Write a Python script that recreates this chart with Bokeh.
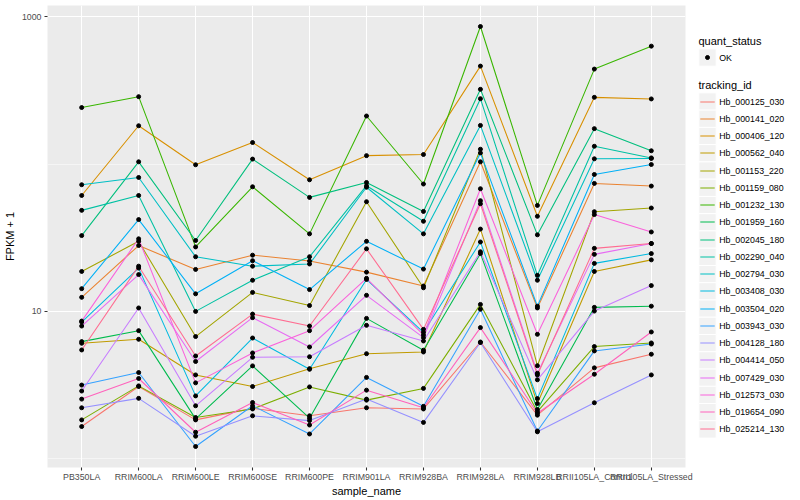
import numpy as np
from bokeh.plotting import figure
from bokeh.models import Range1d, FixedTicker
from bokeh.layouts import row
from bokeh.embed import file_html
from bokeh.resources import INLINE
from bokeh.core.properties import value

# ---------------- data ----------------
samples = ["PB350LA", "RRIM600LA", "RRIM600LE", "RRIM600SE", "RRIM600PE",
           "RRIM901LA", "RRIM928BA", "RRIM928LA", "RRIM928LB",
           "RRII105LA_Control", "RRII105LA_Stressed"]

tracking_ids = ["Hb_000125_030", "Hb_000141_020", "Hb_000406_120", "Hb_000562_040",
                "Hb_001153_220", "Hb_001159_080", "Hb_001232_130", "Hb_001959_160",
                "Hb_002045_180", "Hb_002290_040", "Hb_002794_030", "Hb_003408_030",
                "Hb_003504_020", "Hb_003943_030", "Hb_004128_180", "Hb_004414_050",
                "Hb_007429_030", "Hb_012573_030", "Hb_019654_090", "Hb_025214_130"]

# FPKM + 1 per sample (order of samples)
hb_000125_030 = [1.64, 3.07, 1.82, 2.18, 1.94, 2.20, 2.16, 6.16, 1.96, 4.11, 5.09]
hb_000141_020 = [12.4, 27.9, 19.2, 24.0, 21.9, 18.4, 14.8, 103.5, 10.5, 73.8, 70.8]
hb_000406_120 = [61.1, 182.0, 98.8, 140.0, 78.1, 114.0, 116.0, 463.0, 44.1, 284.0, 277.0]
hb_000562_040 = [6.04, 6.43, 3.68, 3.07, 4.06, 5.13, 5.27, 36.1, 2.35, 18.6, 22.3]
hb_001153_220 = [18.6, 29.8, 6.71, 13.4, 10.9, 55.4, 14.4, 126.0, 4.25, 47.4, 50.2]
hb_001159_080 = [1.82, 3.10, 1.89, 2.16, 3.05, 2.48, 2.98, 11.1, 2.07, 5.74, 6.07]
hb_001232_130 = [242.0, 287.0, 27.3, 70.0, 33.5, 212.0, 73.1, 861.0, 52.3, 442.0, 633.0]
hb_001959_160 = [6.20, 7.36, 1.85, 4.24, 1.87, 8.92, 5.42, 24.6, 2.14, 10.6, 10.8]
hb_002045_180 = [32.6, 103.5, 30.2, 108.0, 59.3, 74.9, 47.6, 322.0, 33.0, 174.0, 123.0]
hb_002290_040 = [48.4, 61.1, 9.95, 16.2, 23.4, 71.2, 40.8, 278.0, 17.5, 132.0, 110.0]
hb_002794_030 = [72.3, 81.0, 23.4, 20.2, 20.9, 69.5, 33.5, 183.0, 16.2, 108.5, 109.0]
hb_003408_030 = [8.42, 19.6, 2.65, 6.56, 4.02, 16.4, 7.17, 29.5, 2.54, 21.1, 24.6]
hb_003504_020 = [14.2, 41.9, 13.1, 22.0, 14.0, 29.8, 19.3, 119.0, 10.8, 84.9, 99.2]
hb_003943_030 = [3.14, 3.82, 1.20, 2.27, 1.46, 3.54, 2.25, 10.3, 1.53, 5.36, 5.97]
hb_004128_180 = [2.20, 2.55, 1.41, 1.94, 1.80, 2.52, 1.75, 6.11, 1.51, 2.38, 3.68]
hb_004414_050 = [2.86, 10.5, 2.27, 4.85, 4.89, 8.00, 6.26, 25.3, 3.41, 10.0, 14.9]
hb_007429_030 = [7.91, 17.7, 4.54, 9.02, 5.70, 12.8, 6.60, 56.3, 3.78, 24.3, 28.8]
hb_012573_030 = [8.55, 31.0, 3.25, 5.19, 7.36, 16.7, 6.88, 67.9, 6.95, 45.3, 34.5]
hb_019654_090 = [2.52, 3.48, 1.50, 2.39, 1.68, 2.90, 2.20, 7.72, 2.02, 3.72, 7.21]
hb_025214_130 = [5.44, 20.2, 4.95, 9.54, 7.91, 26.5, 7.51, 53.7, 3.68, 26.7, 28.8]

series = [hb_000125_030, hb_000141_020, hb_000406_120, hb_000562_040, hb_001153_220,
          hb_001159_080, hb_001232_130, hb_001959_160, hb_002045_180, hb_002290_040,
          hb_002794_030, hb_003408_030, hb_003504_020, hb_003943_030, hb_004128_180,
          hb_004414_050, hb_007429_030, hb_012573_030, hb_019654_090, hb_025214_130]

colors = ["#F8766D", "#EA8331", "#D89000", "#C09B00", "#A3A500", "#7CAE00", "#39B600",
          "#00BB4E", "#00BF7D", "#00C1A3", "#00BFC4", "#00BAE0", "#00B0F6", "#35A2FF",
          "#9590FF", "#C77CFF", "#E76BF3", "#FA62DB", "#FF62BC", "#FF6C91"]

y_ticks = [10, 1000]
y_minor = [1, 100]

FONT = "Liberation Sans"
TOP, FH, BOT = 5, 462, 33   # frame top border, frame height, bottom border

# ---------------- main plot ----------------
xs = list(range(len(samples)))
logs = np.log10(np.concatenate([np.asarray(s, dtype=float) for s in series]))
lo, hi = logs.min(), logs.max()
pad = 0.05 * (hi - lo)

p = figure(frame_width=638, frame_height=FH, title=None,
           x_range=Range1d(-0.6, len(samples) - 0.4),
           y_range=Range1d(10 ** (lo - pad), 10 ** (hi + pad)),
           y_axis_type="log", output_backend="svg", toolbar_location=None,
           min_border_left=45, min_border_right=8, min_border_top=TOP, min_border_bottom=BOT)
p.background_fill_color = "#EBEBEB"
p.border_fill_color = "white"
p.outline_line_color = None

xt = FixedTicker(ticks=xs)
p.xaxis.ticker = xt
p.xgrid.ticker = xt
p.xaxis.major_label_overrides = {i: s for i, s in enumerate(samples)}

yt = FixedTicker(ticks=y_ticks, minor_ticks=y_minor)
p.yaxis.ticker = yt
p.ygrid.ticker = yt
p.yaxis.major_label_overrides = {t: str(t) for t in y_ticks}

for g in (p.xgrid[0], p.ygrid[0]):
    g.grid_line_color = "white"
    g.grid_line_width = 1.07
p.ygrid.minor_grid_line_color = "white"
p.ygrid.minor_grid_line_width = 0.53

for ax in (p.xaxis[0], p.yaxis[0]):
    ax.axis_line_color = None
    ax.major_tick_line_color = "#333333"
    ax.major_tick_line_width = 1.07
    ax.major_tick_out = 3
    ax.major_tick_in = 0
    ax.minor_tick_line_color = None
    ax.major_label_text_font = FONT
    ax.major_label_text_font_size = "8.8px"
    ax.major_label_text_color = "#4D4D4D"
    ax.major_label_standoff = 1
    ax.axis_label_text_font = FONT
    ax.axis_label_text_font_size = "11px"
    ax.axis_label_text_font_style = "normal"
    ax.axis_label_text_color = "black"
    ax.axis_label_standoff = 0
p.yaxis.major_label_standoff = 2
p.yaxis.axis_label_standoff = 3

p.xaxis.axis_label = "sample_name"
p.yaxis.axis_label = "FPKM + 1"

for vals, col in zip(series, colors):
    p.line(xs, vals, line_color=col, line_width=1.07)
for vals in series:
    p.scatter(xs, vals, size=4, color="black")

# ---------------- legend panel (coordinates = page pixels) ----------------
LW = 109
lg = figure(frame_width=LW, frame_height=FH, title=None,
            x_range=Range1d(0, LW), y_range=Range1d(TOP + FH, TOP),
            output_backend="svg", toolbar_location=None,
            min_border_left=0, min_border_right=0, min_border_top=TOP, min_border_bottom=BOT,
            x_axis_type=None, y_axis_type=None)
lg.outline_line_color = None
lg.background_fill_color = "white"
lg.border_fill_color = "white"

key = 17.3
kx = 14.0
lg.text(x=[5], y=[40.7], text=["quant_status"], text_font=value(FONT),
        text_font_size="11px", text_baseline="middle", text_align="left", text_color="black")
lg.rect(x=[kx], y=[57], width=key, height=key, fill_color="#F2F2F2", line_color="white")
lg.scatter([kx], [57], size=4, color="black")
lg.text(x=[25.7], y=[57], text=["OK"], text_font=value(FONT), text_font_size="8.8px",
        text_baseline="middle", text_align="left", text_color="black")

lg.text(x=[5], y=[84], text=["tracking_id"], text_font=value(FONT),
        text_font_size="11px", text_baseline="middle", text_align="left", text_color="black")
ys = [101 + 17.26 * i for i in range(len(tracking_ids))]
ys_line = [np.floor(y) + 0.5 for y in ys]
lg.rect(x=[kx] * len(ys), y=ys, width=key, height=key, fill_color="#F2F2F2", line_color="white")
lg.segment(x0=[kx - 7.2] * len(ys), x1=[kx + 7.2] * len(ys), y0=ys_line, y1=ys_line,
           line_color=colors, line_width=1.2)
lg.text(x=[25.7] * len(ys), y=ys, text=tracking_ids, text_font=value(FONT),
        text_font_size="8.8px", text_baseline="middle", text_align="left", text_color="black")

layout = row(p, lg)
open("out.html", "w").write(file_html(layout, INLINE))
